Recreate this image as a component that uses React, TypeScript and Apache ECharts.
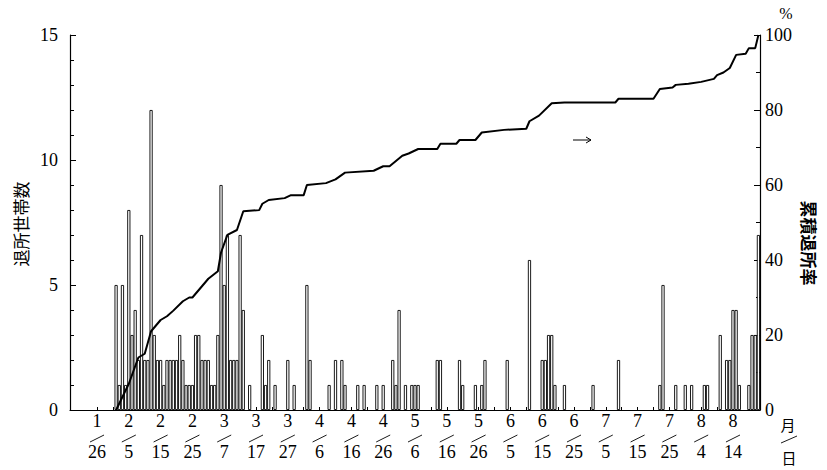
import React, { useEffect, useRef } from "react";
import * as echarts from "echarts";

// ---- axis categories: every day from 1/18 to 8/22 ----
const MONTH_LENGTHS = [31, 28, 31, 30, 31, 30, 31, 31, 30, 31, 30, 31];
const START_MONTH = 1;
const START_DAY = 18;
const END_MONTH = 8;
const END_DAY = 22;

function buildDays(): string[] {
  const out: string[] = [];
  let m = START_MONTH;
  let d = START_DAY;
  while (!(m === END_MONTH && d > END_DAY)) {
    out.push(`${m}/${d}`);
    d += 1;
    if (d > MONTH_LENGTHS[m - 1]) {
      d = 1;
      m += 1;
    }
  }
  return out;
}
const days = buildDays();

// tick labels on the x axis (every 10 days)
const labelDates = [
  "1/26", "2/5", "2/15", "2/25", "3/7", "3/17", "3/27", "4/6", "4/16", "4/26",
  "5/6", "5/16", "5/26", "6/5", "6/15", "6/25", "7/5", "7/15", "7/25", "8/4", "8/14",
];

// ---- 退所世帯数 (households leaving, per day) ----
const retireDates = [
  "2/1", "2/2", "2/3", "2/4", "2/5", "2/6", "2/7", "2/8", "2/9", "2/10",
  "2/11", "2/12", "2/13", "2/14", "2/15", "2/16", "2/17", "2/18", "2/19", "2/20",
  "2/21", "2/22", "2/23", "2/24", "2/25", "2/26", "2/27", "2/28", "3/1", "3/2",
  "3/3", "3/4", "3/5", "3/6", "3/7", "3/8", "3/9", "3/10", "3/11", "3/12",
  "3/13", "3/15", "3/19", "3/20", "3/21", "3/23", "3/27", "3/29", "4/2", "4/3",
  "4/9", "4/11", "4/13", "4/14", "4/18", "4/20", "4/24", "4/26", "4/29", "4/30",
  "5/1", "5/3", "5/5", "5/6", "5/7", "5/13", "5/14", "5/20", "5/21", "5/25",
  "5/27", "5/28", "6/4", "6/11", "6/15", "6/16", "6/17", "6/18", "6/19", "6/22",
  "7/1", "7/9", "7/22", "7/23", "7/27", "7/30", "8/1", "8/5", "8/6", "8/10",
  "8/12", "8/13", "8/14", "8/15", "8/16", "8/19", "8/20", "8/21", "8/22",
];
const retireCounts = [
  5, 1, 5, 1, 8, 3, 4, 2, 7, 2,
  2, 12, 3, 2, 2, 1, 2, 2, 2, 2,
  3, 2, 1, 1, 1, 3, 3, 2, 2, 2,
  1, 1, 3, 9, 5, 7, 2, 2, 2, 7,
  4, 1, 3, 1, 2, 1, 2, 1, 5, 2,
  1, 2, 2, 1, 1, 1, 1, 1, 2, 1,
  4, 1, 1, 1, 1, 2, 2, 2, 1, 1,
  1, 2, 2, 6, 2, 2, 3, 3, 1, 1,
  1, 2, 1, 5, 1, 1, 1, 1, 1, 3,
  2, 2, 4, 4, 1, 1, 3, 3, 7,
];

// ---- 累積退所率 (cumulative rate, %) ----
const lineDates = [
  "2/1", "2/5", "2/8", "2/10", "2/11", "2/12", "2/15", "2/17", "2/19", "2/22",
  "2/24", "2/25", "2/28", "3/2", "3/5", "3/6", "3/8", "3/11", "3/13", "3/18",
  "3/19", "3/21", "3/26", "3/28", "4/1", "4/2", "4/8", "4/11", "4/14", "4/23",
  "4/26", "4/28", "5/2", "5/4", "5/7", "5/13", "5/14", "5/19", "5/20", "5/25",
  "5/27", "6/3", "6/10", "6/11", "6/14", "6/18", "6/22", "7/8", "7/9", "7/20",
  "7/22", "7/26", "7/27", "7/31", "8/4", "8/5", "8/8", "8/9", "8/11", "8/13",
  "8/15", "8/18", "8/19", "8/21", "8/22",
];
const lineRates = [
  0, 7, 14, 15, 18, 21, 24, 25, 26.5, 29,
  30, 30, 33, 35, 37, 42, 46.7, 48, 53, 53.3,
  55, 56, 56.5, 57.3, 57.3, 60, 60.5, 61.5, 63.3, 63.8,
  65, 65, 67.8, 68.4, 69.6, 69.6, 71, 71, 72, 72,
  74, 74.7, 75, 77, 78.5, 81.8, 82, 82, 83, 83,
  85.6, 86, 86.7, 87, 87.5, 87.7, 88.3, 89.3, 90, 91.2,
  94.7, 95, 96.5, 96.5, 100,
];

const SERIF = "Liberation Serif";
const CJK = "Noto Sans CJK JP";

export default function App() {
  const ref = useRef<HTMLDivElement>(null);

  useEffect(() => {
    if (!ref.current) return;
    const chart = echarts.init(ref.current, null, { renderer: "svg" });

    const labelFirst = days.indexOf(labelDates[0]);

    const option: any = {
      animation: false,
      backgroundColor: "#fff",
      textStyle: { fontFamily: SERIF },
      grid: { left: 70, right: 67, top: 35, bottom: 60, containLabel: false },
      xAxis: {
        type: "category",
        data: days,
        boundaryGap: true,
        axisLine: { show: true, lineStyle: { color: "#000", width: 1.2 } },
        axisTick: {
          show: true,
          inside: true,
          length: 3,
          alignWithLabel: true,
          interval: (index: number) => index >= labelFirst && (index - labelFirst) % 5 === 0,
          lineStyle: { color: "#000", width: 1 },
        },
        axisLabel: {
          interval: (_i: number, value: string) => labelDates.includes(value),
          formatter: (value: string) => {
            const [m, d] = value.split("/");
            return `${m}\n\n${d}`;
          },
          fontFamily: SERIF,
          fontSize: 18,
          color: "#000",
          lineHeight: 15.5,
          margin: 3,
        },
        splitLine: { show: false },
      },
      yAxis: [
        {
          type: "value",
          min: 0,
          max: 15,
          interval: 5,
          position: "left",
          axisLine: { show: true, lineStyle: { color: "#000", width: 1.2 } },
          axisTick: { show: true, inside: true, length: 6, lineStyle: { color: "#000" } },
          minorTick: { show: true, splitNumber: 5, length: 4, lineStyle: { color: "#000" } },
          axisLabel: { fontFamily: SERIF, fontSize: 18, color: "#000", margin: 12 },
          splitLine: { show: false },
        },
        {
          type: "value",
          min: 0,
          max: 100,
          interval: 20,
          position: "right",
          axisLine: { show: true, lineStyle: { color: "#000", width: 1.2 } },
          axisTick: { show: true, inside: true, length: 6, lineStyle: { color: "#000" } },
          minorTick: { show: true, splitNumber: 2, length: 4, lineStyle: { color: "#000" } },
          axisLabel: { fontFamily: SERIF, fontSize: 18, color: "#000", margin: 5 },
          splitLine: { show: false },
        },
      ],
      series: [
        {
          type: "bar",
          yAxisIndex: 0,
          barCategoryGap: "0%",
          data: retireDates.map((d, i) => [days.indexOf(d), retireCounts[i]]),
          itemStyle: { color: "#fff", borderColor: "#000", borderWidth: 0.9 },
          z: 2,
        },
        {
          type: "line",
          yAxisIndex: 1,
          showSymbol: false,
          data: lineDates.map((d, i) => [days.indexOf(d), lineRates[i]]),
          lineStyle: { color: "#000", width: 2 },
          z: 5,
        },
      ],
    };
    chart.setOption(option);

    const slashes = labelDates.map((d) => {
      const x = chart.convertToPixel({ xAxisIndex: 0 }, d) as number;
      return {
        type: "line",
        shape: { x1: x - 7, y1: 442, x2: x + 7, y2: 435 },
        style: { stroke: "#000", lineWidth: 0.9 },
        silent: true,
      };
    });

    chart.setOption({
      graphic: [
        {
          type: "text",
          x: 20,
          y: 224,
          rotation: Math.PI / 2,
          style: {
            text: "退所世帯数",
            fontFamily: CJK,
            fontSize: 17,
            fill: "#000",
            align: "center",
            verticalAlign: "middle",
          },
        },
        {
          type: "text",
          x: 809,
          y: 243,
          rotation: -Math.PI / 2,
          style: {
            text: "累積退所率",
            fontFamily: CJK,
            fontSize: 17,
            fontWeight: "bold",
            fill: "#000",
            align: "center",
            verticalAlign: "middle",
          },
        },
        {
          type: "text",
          x: 786,
          y: 13,
          style: {
            text: "%",
            fontFamily: SERIF,
            fontSize: 16,
            fill: "#000",
            align: "center",
            verticalAlign: "middle",
          },
        },
        {
          type: "text",
          x: 788,
          y: 424,
          style: {
            text: "月",
            fontFamily: CJK,
            fontSize: 15,
            fill: "#000",
            align: "center",
            verticalAlign: "middle",
          },
        },
        {
          type: "line",
          shape: { x1: 781, y1: 443, x2: 797, y2: 436 },
          style: { stroke: "#000", lineWidth: 0.9 },
        },
        {
          type: "text",
          x: 789,
          y: 457,
          style: {
            text: "日",
            fontFamily: CJK,
            fontSize: 15,
            fill: "#000",
            align: "center",
            verticalAlign: "middle",
          },
        },
        {
          type: "line",
          shape: { x1: 573, y1: 140, x2: 591, y2: 140 },
          style: { stroke: "#000", lineWidth: 1 },
        },
        {
          type: "polyline",
          shape: { points: [[586, 137], [591, 140], [586, 143]] },
          style: { stroke: "#000", lineWidth: 1, fill: null },
        },
        ...slashes,
      ],
    });

    return () => {
      chart.dispose();
    };
  }, []);

  return (
    <div
      ref={ref}
      style={{ position: "absolute", left: 0, top: 0, width: 827, height: 470, background: "#fff" }}
    />
  );
}
